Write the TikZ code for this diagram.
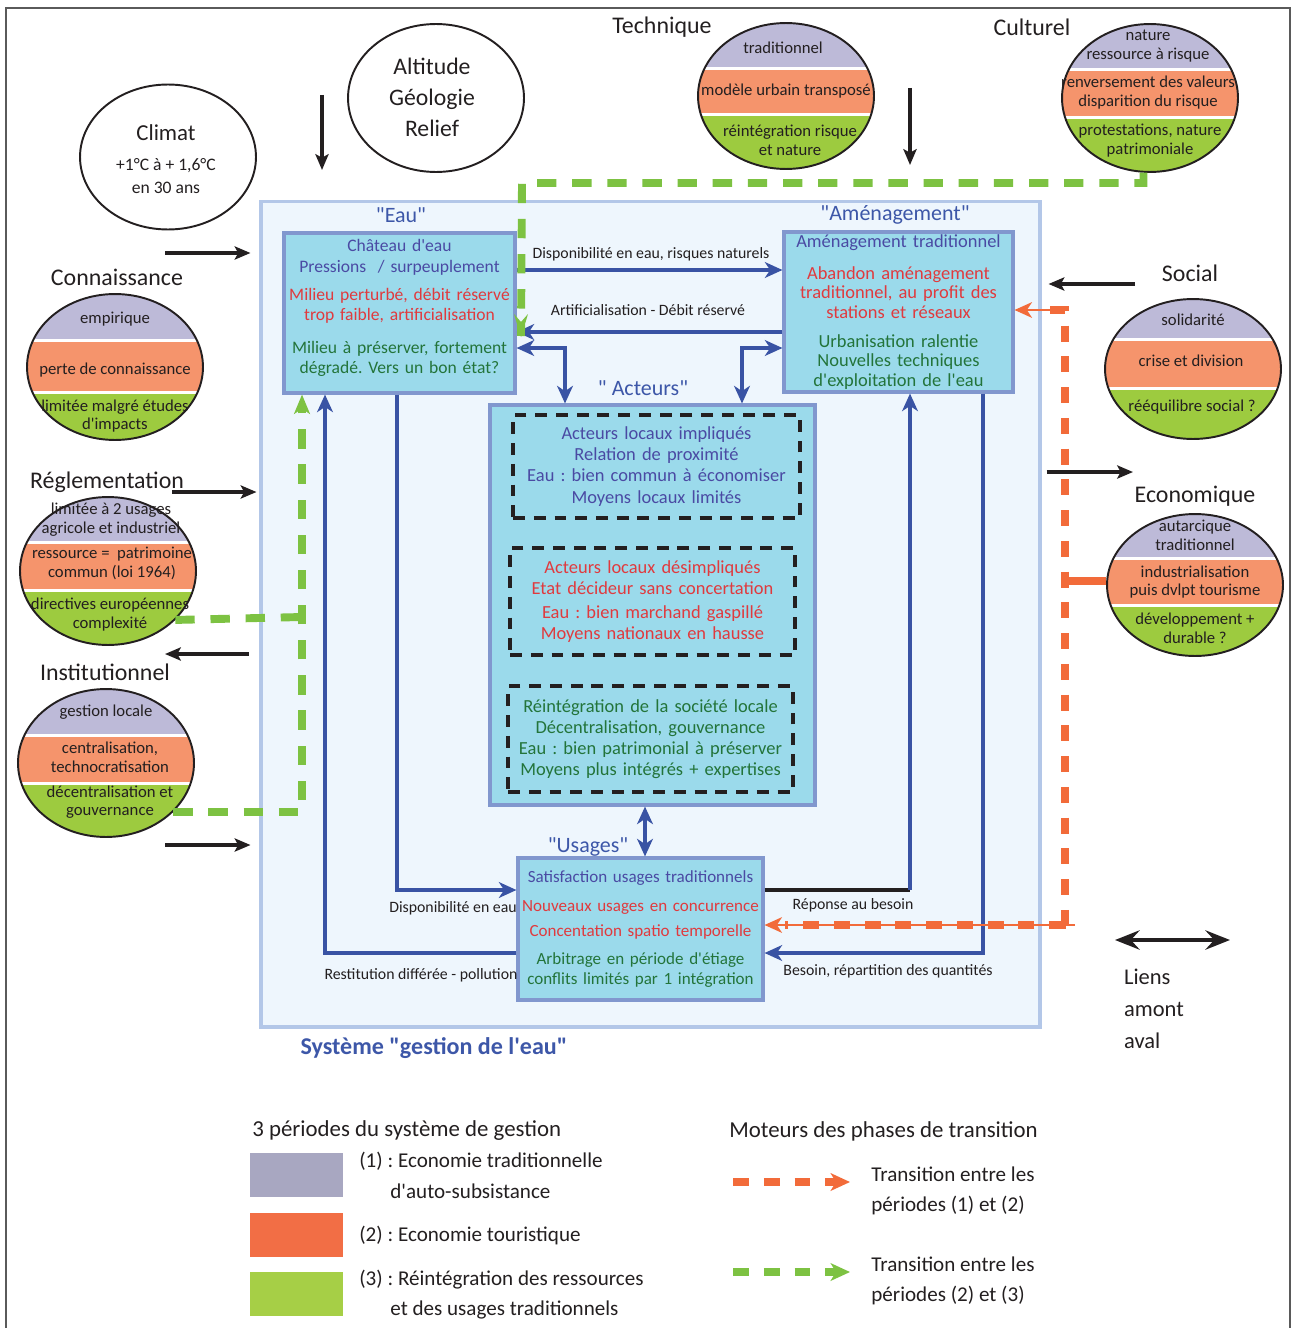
\documentclass[tikz,border=0pt]{standalone}
\usepackage{fontspec}
\setmainfont{Carlito}
\newfontfamily\diagfont{Carlito}
\usetikzlibrary{arrows.meta, positioning, shapes.geometric}
\definecolor{framegray}{RGB}{90,90,90}
\definecolor{sysfill}{HTML}{EEF6FD}
\definecolor{sysline}{HTML}{B3C7E8}
\definecolor{boxfill}{HTML}{9BDAEB}
\definecolor{boxline}{HTML}{8197CE}
\definecolor{flowblue}{HTML}{3953A4}
\definecolor{titleblue}{HTML}{3D57A8}
\definecolor{txtpurple}{HTML}{4A4AA3}
\definecolor{txtred}{HTML}{E03A3E}
\definecolor{txtgreen}{HTML}{23743A}
\definecolor{txtdark}{HTML}{231F20}
\definecolor{perone}{HTML}{BDBAD8}
\definecolor{pertwo}{HTML}{F5946C}
\definecolor{perthree}{HTML}{9DCB3F}
\definecolor{legone}{HTML}{A8A7C1}
\definecolor{legtwo}{HTML}{F26E45}
\definecolor{legthree}{HTML}{A6CF46}
\definecolor{dashorange}{HTML}{F26B3A}
\definecolor{dashgreen}{HTML}{7DC242}
\newcommand{\dfs}[2]{\diagfont\frenchspacing\fontsize{#1}{#2}\selectfont}
\tikzset{
  sysbox/.style     = {draw=sysline, line width=1.8pt, fill=sysfill, inner sep=0pt},
  box/.style        = {draw=boxline, line width=1.8pt, fill=boxfill, align=center,
                       inner sep=0pt, font={\dfs{10}{11.4}}},
  dbox/.style       = {draw=txtdark, line width=2.2pt, dash pattern=on 6.8pt off 5pt,
                       align=center, inner sep=0pt, font={\dfs{10.5}{12}}},
  flow/.style       = {-{Stealth[length=10pt, width=9pt, inset=3pt]}, line width=2.1pt, flowblue},
  flowboth/.style   = {{Stealth[length=10pt, width=9pt, inset=3pt]}-{Stealth[length=10pt, width=9pt, inset=3pt]},
                       line width=2.1pt, flowblue},
  link/.style       = {-{Stealth[length=9pt, width=7.5pt, inset=2pt]}, line width=2.2pt, txtdark},
  greendash/.style  = {line width=4.5pt, dashgreen, dash pattern=on 11pt off 9pt},
  orangedash/.style = {line width=4.5pt, dashorange, dash pattern=on 9pt off 8.5pt},
  thinorange/.style = {-{Stealth[length=10pt, width=9pt, inset=3pt]}, line width=0.7pt, dashorange},
  elabel/.style     = {font={\dfs{9}{10}}, text=txtdark, inner sep=1pt},
  ttl/.style        = {font={\dfs{13.6}{15}}, text=txtdark, inner sep=1pt},
  grp/.style        = {font={\dfs{12.5}{14}}, text=titleblue, inner sep=1pt},
  bandtxt/.style    = {font={\dfs{9.5}{10.6}}, text=txtdark, align=center, inner sep=0pt},
  ring/.style       = {ellipse, draw=txtdark, line width=1.1pt, minimum width=3.52cm, inner sep=0pt},
  swatch/.style     = {minimum width=1.86cm, minimum height=0.88cm, inner sep=0pt},
  legtxt/.style     = {font={\dfs{12}{13}}, text=txtdark, anchor=west, inner sep=0pt},
}
% ellipse split in the three periods
\newcommand{\periodring}[6]{%
  \begin{scope}
    \clip (#2,#3) ellipse [x radius=1.76cm, y radius=#4*0.02cm];
    \fill[perone]   (#2-90,#3-#4-2) rectangle (#2+90,#5);
    \fill[pertwo]   (#2-90,#5+3) rectangle (#2+90,#6);
    \fill[perthree] (#2-90,#6+3) rectangle (#2+90,#3+#4+2);
  \end{scope}
  \node[ring, minimum height=#4*0.04cm] (#1) at (#2,#3) {};
}

\begin{document}
\begin{tikzpicture}[x=0.02cm, y=-0.02cm]
  \useasboundingbox (0,0) rectangle (1293,1328);
  \draw[framegray, line width=0.8pt] (6,8) rectangle (1290,1345);

  % system box
  \node[sysbox, minimum width=15.58cm, minimum height=16.52cm] (sys) at (650.5,614) {};
  \node[grp] (eaut) at (401,215) {"Eau"};
  \node[grp] (ament) at (895,215) {"Aménagement"};
  \node[grp] (actt) at (643,388) {" Acteurs"};
  \node[grp] (usat) at (588,847) {"Usages"};
  \node[grp, font={\bfseries\dfs{13.7}{15}}] (syst) at (434,1048) {Système "gestion de l'eau"};

  \node[box, minimum width=4.62cm, minimum height=3.2cm, text width=4.6cm] (eau) at (399.5,313)
    {{\color{txtpurple}Château d'eau\\Pressions\ \ / surpeuplement}\\[5pt]
     {\color{txtred}Milieu perturbé, débit réservé\\trop faible, artificialisation}\\[7pt]
     {\color{txtgreen}Milieu à préserver, fortement\\dégradé. Vers un bon état?}\\[-4pt]\mbox{}};
  \node[box, minimum width=4.58cm, minimum height=3.2cm, text width=4.55cm, font={\dfs{10.5}{11.2}}] (amen) at (898.5,312)
    {{\color{txtpurple}Aménagement traditionnel}\\[7pt]
     {\color{txtred}Abandon aménagement\\traditionnel, au profit des\\stations et réseaux}\\[5pt]
     {\color{txtgreen}Urbanisation ralentie\\Nouvelles techniques\\d'exploitation de l'eau}};
  \node[box, minimum width=6.5cm, minimum height=8cm] (act) at (652.5,605) {};
  \node[dbox, minimum width=5.74cm, minimum height=2.06cm, text width=5.7cm, text=txtpurple] (actone) at (656.5,466.5)
    {Acteurs locaux impliqués\\Relation de proximité\\Eau : bien commun à économiser\\Moyens locaux limités};
  \node[dbox, minimum width=5.7cm, minimum height=2.14cm, text width=5.65cm, text=txtred] (acttwo) at (652.5,601.5)
    {Acteurs locaux désimpliqués\\Etat décideur sans concertation\\[2pt]Eau : bien marchand gaspillé\\Moyens nationaux en hausse};
  \node[dbox, minimum width=5.7cm, minimum height=2.12cm, text width=5.65cm, text=txtgreen] (actthree) at (650.5,739)
    {Réintégration de la société locale\\Décentralisation, gouvernance\\Eau : bien patrimonial à préserver\\Moyens plus intégrés + expertises};
  \node[box, minimum width=4.9cm, minimum height=2.84cm, text width=4.88cm, font={\dfs{9.7}{11.2}}] (usa) at (640.5,929)
    {{\color{txtpurple}Satisfaction usages traditionnels}\\[5pt]
     {\color{txtred}Nouveaux usages en concurrence\\[3pt]Concentation spatio temporelle}\\[5pt]
     {\color{txtgreen}Arbitrage en période d'étiage\\conflits limités par 1 intégration}};

  % flows inside the system
  \draw[flow] (eau.east |- 0,270) -- (amen.west |- 0,270);
  \draw[flow] (amen.west |- 0,332) -- (eau.east |- 0,332);
  \draw[flowboth] (eau.east |- 0,348) -| (act.north -| 565,0);
  \draw[flowboth] (amen.west |- 0,348) -| (act.north -| 742,0);
  \draw[flow] (eau.south -| 397,0) |- (usa.west |- 0,890);
  \draw[flow] (usa.west |- 0,953) -| (eau.south -| 325,0);
  \coordinate (rep) at (910,890);
  \draw[txtdark, line width=2.1pt] (usa.east |- rep) -- (rep);
  \draw[flow] (rep) -- (amen.south -| rep);
  \draw[flow] (amen.south -| 983,0) |- (usa.east |- 0,953);
  \draw[flowboth] (act.south -| 645,0) -- (usa.north -| 645,0);

  \node[elabel] (lab1) at (651,254) {Disponibilité en eau, risques naturels};
  \node[elabel] (lab2) at (648,310) {Artificialisation - Débit réservé};
  \node[elabel] (lab3) at (453,908) {Disponibilité en eau};
  \node[elabel] (lab4) at (421,975) {Restitution différée - pollution};
  \node[elabel] (lab5) at (853,905) {Réponse au besoin};
  \node[elabel] (lab6) at (888,971) {Besoin, répartition des quantités};

  % outside factors
  \node[ring, minimum height=2.9cm] (clim) at (168,157) {};
  \node[ttl, font={\dfs{13}{15}}] (climt) at (166,133) {Climat};
  \node[bandtxt, font={\dfs{10}{13}}] (climv) at (166,176) {+1°C à + 1,6°C\\en 30 ans};
  \node[ring, minimum height=2.96cm] (alt) at (436,98) {};
  \node[ttl, align=center, font={\dfs{13.5}{17.6}}] (altt) at (432,97) {Altitude\\Géologie\\Relief};

  \node[ttl] (techt) at (662,27) {Technique};
  \periodring{tech}{786}{96}{73}{67}{113}
  \node[bandtxt] (techa) at (783,48) {traditionnel};
  \node[bandtxt] (techb) at (786,91) {modèle urbain transposé};
  \node[bandtxt] (techc) at (790,140.5) {réintégration risque\\et nature};

  \node[ttl] (cultt) at (1032,27) {Culturel};
  \periodring{cult}{1150}{98}{74}{68}{116}
  \node[bandtxt] (culta) at (1148,46) {nature\\ressource à risque};
  \node[bandtxt] (cultb) at (1148,92.5) {renversement des valeurs\\disparition du risque};
  \node[bandtxt] (cultc) at (1150,140.5) {protestations, nature\\patrimoniale};

  \node[ttl] (connt) at (117,277) {Connaissance};
  \periodring{conn}{115}{367}{73}{339}{391}
  \node[bandtxt] (conna) at (115,319) {empirique};
  \node[bandtxt] (connb) at (115,370) {perte de connaissance};
  \node[bandtxt] (connc) at (115,416) {limitée malgré études\\d'impacts};

  \node[ttl] (reglt) at (107,482) {Réglementation};
  \periodring{regl}{108}{571}{74}{541}{589}
  \node[bandtxt] (regla) at (111,519.5) {limitée à 2 usages\\agricole et industriel};
  \node[bandtxt] (reglb) at (112,563.5) {ressource =\ \ patrimoine\\commun (loi 1964)};
  \node[bandtxt] (reglc) at (110,614.5) {directives européennes\\complexité};

  \node[ttl] (instt) at (105,672) {Institutionnel};
  \periodring{inst}{106}{763}{74}{734}{782}
  \node[bandtxt] (insta) at (106,712) {gestion locale};
  \node[bandtxt] (instb) at (110,757.5) {centralisation,\\technocratisation};
  \node[bandtxt] (instc) at (110,802) {décentralisation et\\gouvernance};

  \node[ttl] (soct) at (1190,273) {Social};
  \periodring{soc}{1193}{369}{70}{338}{387}
  \node[bandtxt] (soca) at (1193,320) {solidarité};
  \node[bandtxt] (socb) at (1191,361) {crise et division};
  \node[bandtxt] (socc) at (1192,407) {rééquilibre social ?};

  \node[ttl] (ecot) at (1195,496) {Economique};
  \periodring{eco}{1195}{585}{71}{557}{604}
  \node[bandtxt] (ecoa) at (1195,535.5) {autarcique\\traditionnel};
  \node[bandtxt] (ecob) at (1195,582) {industrialisation\\puis dvlpt tourisme};
  \node[bandtxt] (ecoc) at (1195,628) {développement +\\durable ?};

  % links with the outside
  \coordinate (kin) at (165,253);
  \coordinate (rin) at (172,492);
  \coordinate (iout) at (165,654);
  \coordinate (lin) at (165,845);
  \coordinate (sin) at (1135,284);
  \coordinate (eout) at (1133,472);
  \coordinate (rel) at (322,95);
  \coordinate (tec) at (910,88);
  \draw[link, shorten >=0.18cm] (kin) -- (sys.west |- kin);
  \draw[link, shorten >=0.06cm] (rin) -- (sys.west |- rin);
  \draw[link, shorten <=0.22cm] (sys.west |- iout) -- (iout);
  \draw[link, shorten >=0.18cm] (lin) -- (sys.west |- lin);
  \draw[link, shorten >=0.14cm] (sin) -- (sys.east |- sin);
  \draw[link, shorten <=0.1cm] (sys.east |- eout) -- (eout);
  \draw[link] (rel) -- (322,170);
  \draw[link] (tec) -- (910,165);

  % transitions
  \coordinate (greenin) at (521,336);
  \draw[greendash] (cult.-95) -- (cult.-95 |- 0,183) -- (522,183) -- (greenin);
  \fill[dashgreen] (greenin) ++(-7,-22) -- ++(6,20) -- ++(1,3) -- ++(1,-3) -- ++(6,-20) -- ++(-7,8) -- cycle;
  \draw[greendash] (regl.-36) -- (302,617);
  \draw[greendash, -{Stealth[length=11pt, width=9pt, inset=3pt]}] (inst.-36) -| (eau.south -| 302,0);

  \coordinate (otop) at (1065,310);
  \coordinate (obot) at (1065,925);
  \draw[thinorange] (otop) -- (amen.east |- otop);
  \draw[thinorange] (1075,925) -- (usa.east |- obot);
  \draw[orangedash] (1050,310) -- (otop) -- (obot) -- (1080,925);
  \draw[orangedash] (obot) -- (785,925);
  \draw[line width=4.5pt, dashorange] (eco.west |- 0,581) -- (1066,581);

  \draw[{Stealth[length=14pt, width=11pt, inset=5pt]}-{Stealth[length=14pt, width=11pt, inset=5pt]},
        line width=2.4pt, txtdark] (1115,940) coordinate (lienl) -- (1230,940) coordinate (lienr);
  \node[ttl, align=left, anchor=north west, font={\dfs{12.8}{18.2}}] (liens) at (1122,967) {Liens\\amont\\aval};

  % legend
  \node[legtxt, font={\dfs{13}{14}}] (legp) at (252,1131) {3 périodes du système de gestion};
  \node[swatch, fill=legone] (swone) at (296.5,1175) {};
  \node[swatch, fill=legtwo] (swtwo) at (296.5,1234.5) {};
  \node[swatch, fill=legthree] (swthree) at (296.5,1293.5) {};
  \node[legtxt] (legone) at (359,1161) {(1) : Economie traditionnelle};
  \node[legtxt] (legonb) at (390,1191) {d'auto-subsistance};
  \node[legtxt] (legtwo) at (359,1235) {(2) : Economie touristique};
  \node[legtxt] (legthr) at (359,1280) {(3) : Réintégration des ressources};
  \node[legtxt] (legthb) at (390,1310) {et des usages traditionnels};

  \node[legtxt, font={\dfs{13}{14}}] (legm) at (729,1131) {Moteurs des phases de transition};
  \coordinate (loa) at (733,1182);
  \coordinate (lob) at (850,1182);
  \coordinate (lga) at (733,1272);
  \coordinate (lgb) at (850,1272);
  \draw[orangedash, -{Stealth[length=11pt, width=10pt, inset=3pt]}] (loa) -- (lob);
  \draw[greendash, dash pattern=on 9pt off 8.5pt, -{Stealth[length=11pt, width=10pt, inset=3pt]}] (lga) -- (lgb);
  \node[legtxt, align=left, font={\dfs{12}{17}}] (lego) at (871,1190.5) {Transition entre les\\périodes (1) et (2)};
  \node[legtxt, align=left, font={\dfs{12}{17}}] (legg) at (871,1280.5) {Transition entre les\\périodes (2) et (3)};
\end{tikzpicture}
\end{document}
